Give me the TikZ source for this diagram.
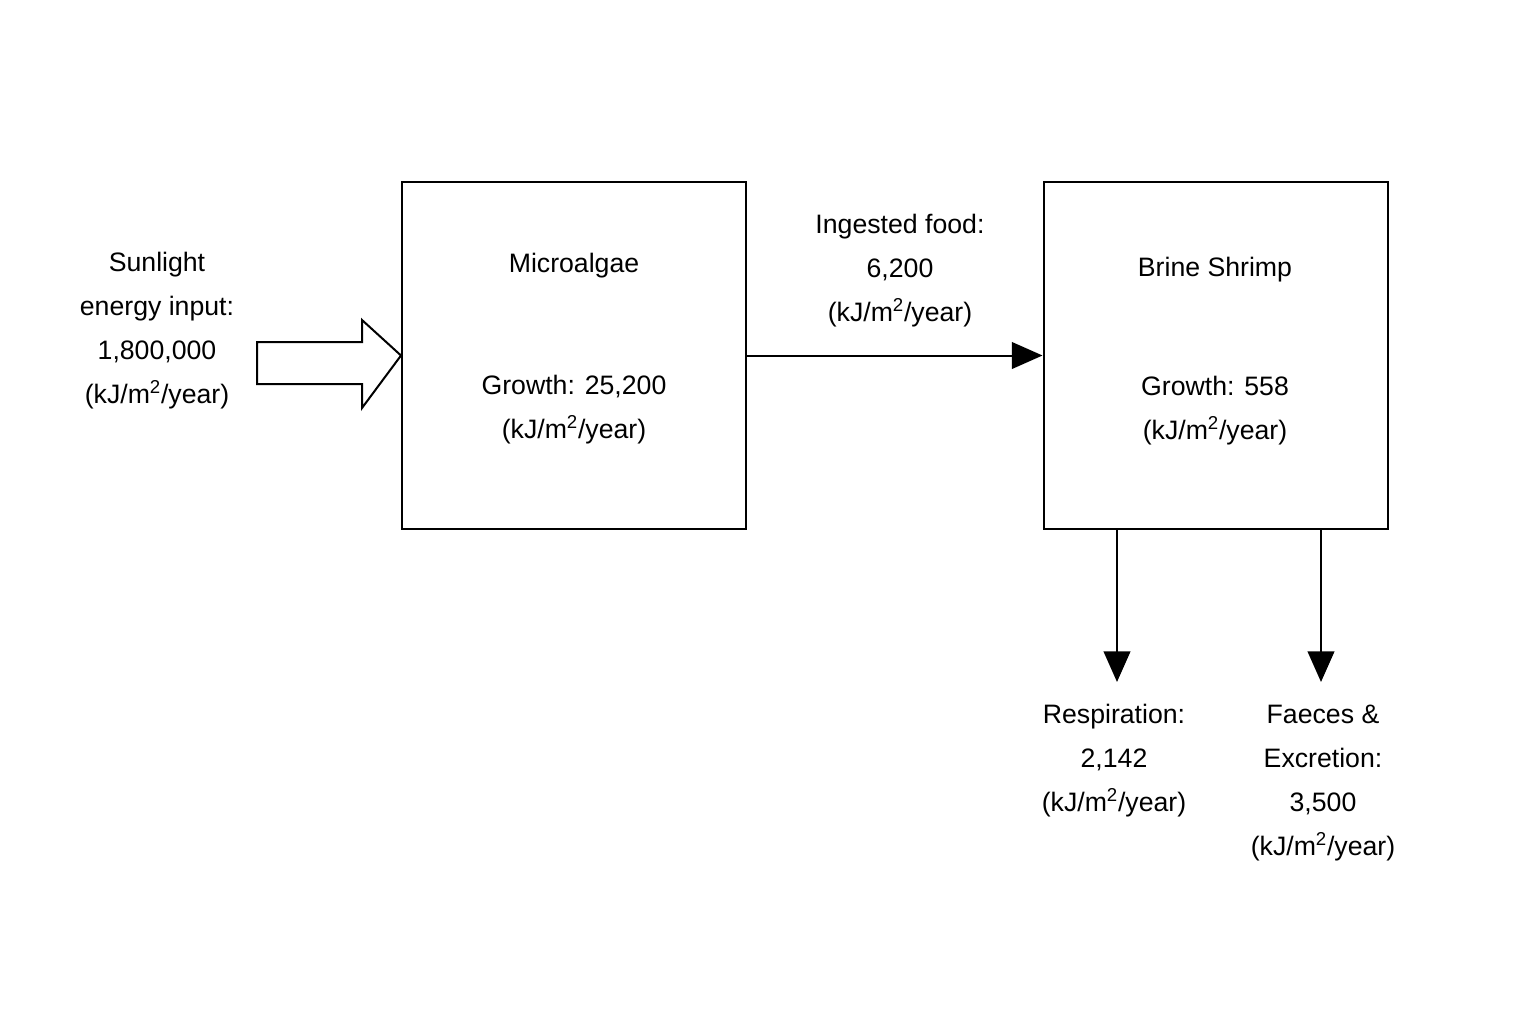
\documentclass[tikz,border=0pt]{standalone}
\usepackage{fontspec}
\setmainfont{Liberation Sans}
\usetikzlibrary{arrows.meta}
\tikzset{
  box/.style={draw, line width=1.5pt, minimum width=258pt, minimum height=260pt, inner sep=0pt},
  lbl/.style={align=center, inner sep=0pt, font=\fontsize{20}{33}\selectfont},
  flow/.style={line width=1.5pt, -{Triangle[width=20pt,length=23pt]}}
}
\newcommand{\unitkj}{(kJ/m\textsuperscript{2}/year)}
\begin{document}
\begin{tikzpicture}[x=0.75pt,y=0.75pt,yscale=-1,xscale=1]
\useasboundingbox (0,0) rectangle (1536,1024);

% boxes
\node[box] (algae) at (574,355.5) {};
\node[box] (shrimp) at (1215.5,355.5) {};

\node[lbl] (algaename) at (574,266) {Microalgae};
\node[lbl] (algaegrowth) at (574,410) {Growth: 25,200\\\unitkj};
\node[lbl] (shrimpname) at (1215,270) {Brine Shrimp};
\node[lbl] (shrimpgrowth) at (1215,411) {Growth: 558\\\unitkj};

% sunlight
\node[lbl] (sun) at (157,331) {Sunlight\\energy input:\\1,800,000\\\unitkj};
\draw[line width=1.5pt] (257,342) -- (362,342) -- (362,320) -- (algae.west) -- (362,408) -- (362,384) -- (257,384) -- cycle;

% ingested food
\node[lbl] (food) at (900,271) {Ingested food:\\6,200\\\unitkj};
\draw[flow] (algae.east) -- (shrimp.west);

% losses
\coordinate (respout) at (1117,529);
\coordinate (faecout) at (1321,529);
\node[lbl] (resp) at (1114,761) {Respiration:\\2,142\\\unitkj};
\node[lbl] (faec) at (1323,783) {Faeces \&\\Excretion:\\3,500\\\unitkj};
\draw[flow] (respout) -- (1117,682);
\draw[flow] (faecout) -- (1321,682);

\end{tikzpicture}
\end{document}
